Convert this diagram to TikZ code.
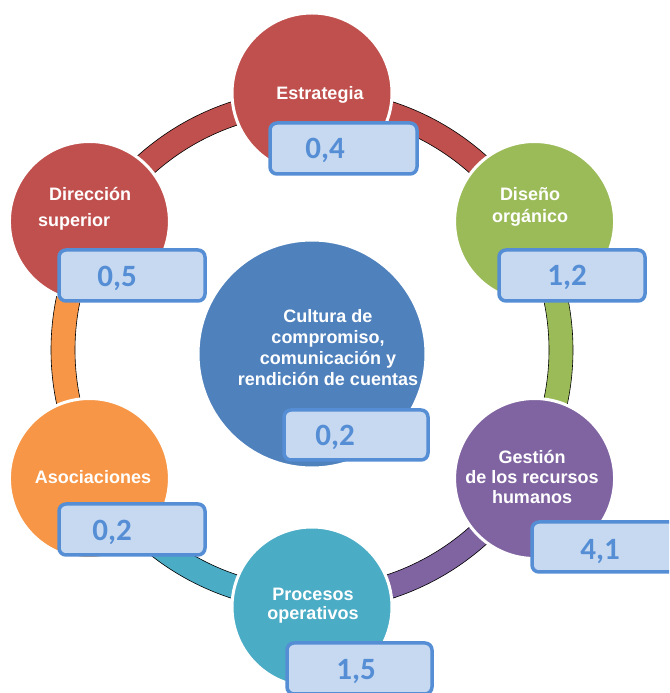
\documentclass[tikz,border=0pt]{standalone}
\usepackage{fontspec}
\setmainfont{Liberation Sans}
\newfontfamily\numfont{Carlito}
\definecolor{cRed}{HTML}{C0504D}
\definecolor{cGreen}{HTML}{9BBB59}
\definecolor{cPurple}{HTML}{8064A2}
\definecolor{cTeal}{HTML}{4BACC6}
\definecolor{cOrange}{HTML}{F79646}
\definecolor{cBlue}{HTML}{4F81BD}
\definecolor{boxFill}{HTML}{C6D9F1}
\definecolor{boxLine}{HTML}{558ED5}
\tikzset{
  sat/.style={circle, draw=white, line width=3pt, minimum size=160pt, inner sep=0pt},
  lbl/.style={text=white, font=\fontsize{18}{21}\selectfont\bfseries, align=center, inner sep=0pt},
  valbox/.style={rectangle, rounded corners=7pt, draw=boxLine, fill=boxFill, line width=3.5pt, inner sep=0pt},
  valtxt/.style={text=boxLine, font=\numfont\fontsize{31}{31}\selectfont\bfseries, inner sep=0pt},
  seg/.style={draw=black, line width=0.6pt}
}
\newcommand{\ringseg}[3]{%
  \filldraw[seg, fill=#3] ($(C)+(#1:261)$) arc[start angle=#1, end angle=#2, radius=261]
    -- ($(C)+(#2:237)$) arc[start angle=#2, end angle=#1, radius=237] -- cycle;}
\usetikzlibrary{calc}
\begin{document}
\begin{tikzpicture}[x=1pt,y=1pt]
\useasboundingbox (0,0) rectangle (669,693);
\clip (0,0) rectangle (669,693);
\coordinate (C) at (312,343);
% ring segments
\ringseg{90}{30}{cRed}
\ringseg{30}{-30}{cGreen}
\ringseg{-30}{-90}{cPurple}
\ringseg{-90}{-150}{cTeal}
\ringseg{210}{150}{cOrange}
\ringseg{150}{90}{cRed}
% circles
\node[sat, fill=cRed] (estr) at ($(C)+(90:257)$) {};
\node[sat, fill=cGreen] (dise) at ($(C)+(30:257)$) {};
\node[sat, fill=cPurple] (gest) at ($(C)+(-30:257)$) {};
\node[sat, fill=cTeal] (proc) at ($(C)+(-90:257)$) {};
\node[sat, fill=cOrange] (asoc) at ($(C)+(210:257)$) {};
\node[sat, fill=cRed] (dire) at ($(C)+(150:257)$) {};
\node[sat, fill=cBlue, minimum size=228pt] (cult) at (312,339) {};
% labels
\node[lbl] (tEstr) at (320,598.5) {Estrategia};
\node[lbl, align=left, anchor=west, font=\fontsize{18}{26}\selectfont\bfseries] (tDire) at (38,484.5) {\hspace{11pt}Dirección\\superior};
\node[lbl, font=\fontsize{18}{22}\selectfont\bfseries] (tDise) at (530,486.5) {Diseño\\orgánico};
\node[lbl] (tCult) at (328,345) {Cultura de\\compromiso,\\comunicación y\\rendición de cuentas};
\node[lbl] (tAsoc) at (93,216) {Asociaciones};
\node[lbl, font=\fontsize{18}{20}\selectfont\bfseries] (tGest) at (532,216) {Gestión\\de los recursos\\humanos\hspace{26pt}};
\node[lbl, font=\fontsize{18}{19}\selectfont\bfseries] (tProc) at (313,87) {Procesos\\operativos};
% value boxes
\node[valbox, minimum width=147pt, minimum height=51pt] (bEstr) at (343.5,544.5) {};
\node[valtxt] (vEstr) at (325,543) {0,4};
\node[valbox, minimum width=146pt, minimum height=51pt] (bDire) at (132,417.5) {};
\node[valtxt] (vDire) at (117,415) {0,5};
\node[valbox, minimum width=146pt, minimum height=51pt] (bDise) at (572,417.5) {};
\node[valtxt] (vDise) at (567,416) {1,2};
\node[valbox, minimum width=144pt, minimum height=50pt] (bCult) at (356,258) {};
\node[valtxt] (vCult) at (335,256) {0,2};
\node[valbox, minimum width=146pt, minimum height=51pt] (bAsoc) at (132,163.5) {};
\node[valtxt] (vAsoc) at (112,161) {0,2};
\node[valbox, minimum width=146pt, minimum height=50pt] (bGest) at (605,146) {};
\node[valtxt] (vGest) at (600,141) {4,1};
\node[valbox, minimum width=145pt, minimum height=51pt] (bProc) at (359.5,24.5) {};
\node[valtxt] (vProc) at (356,21) {1,5};
\end{tikzpicture}
\end{document}
